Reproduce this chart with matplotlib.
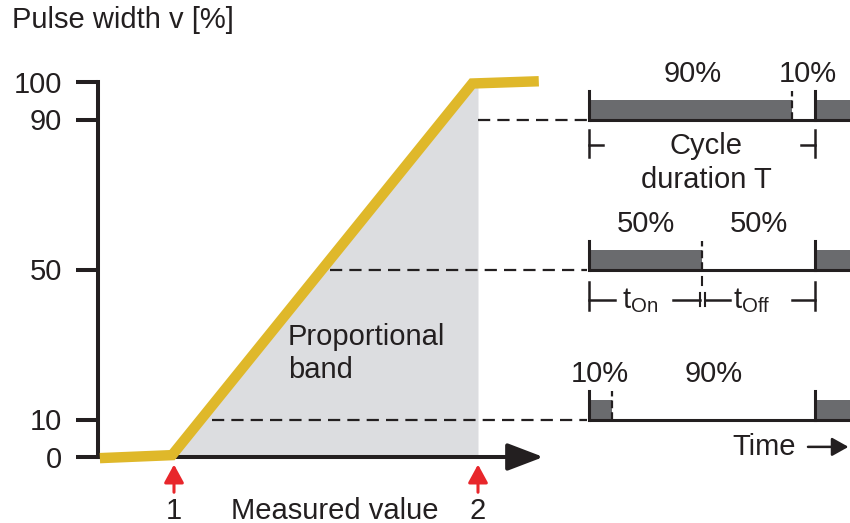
import numpy as np
import matplotlib.pyplot as plt

plt.rcParams['font.family'] = ['Liberation Sans', 'DejaVu Sans']
plt.rcParams['mathtext.fontset'] = 'custom'
plt.rcParams['mathtext.rm'] = 'Liberation Sans'
plt.rcParams['mathtext.it'] = 'Liberation Sans'

# controller curve: measured value -> pulse width [%]
curve_x = [0.05, 1.95, 9.85, 11.6]
curve_y = [-0.3, 0.5, 99.6, 100.2]
band_x = [1.95, 9.85, 10.0]     # grey proportional band (under the curve)
band_y = [0.5, 99.6, 99.6]
points = [2, 10]                # point 1 and point 2
point_labels = ['1', '2']
yticks = [0, 10, 50, 90, 100]

# pulse trains on the right (time in cycle durations T)
levels = [90, 50, 10]
duty = [0.9, 0.5, 0.1]
dash_from = [10.0, 6.1, 3.0]    # where the dashed guide leaves the curve
on_labels = ['90%', '50%', '10%']
off_labels = ['10%', '50%', '90%']

ink = '#231f20'
yellow = '#dfb82a'
fill_grey = '#dcdde0'
pulse_grey = '#6a6b6e'
red = '#e8262b'
fs = 21

fig = plt.figure(figsize=(8.5, 5.23), dpi=100)
ax = fig.add_axes([0, 0, 1, 1])
ax.set_xlim(-98 / 38, (850 - 98) / 38)
ax.set_ylim(-66 / 3.75, 457 / 3.75)
ax.patch.set_visible(False)

ax2 = fig.add_axes([0, 0, 1, 1], sharey=ax)
ax2.set_xlim(-589 / 226, 261 / 226)
ax2.axis('off')
ax2.patch.set_visible(False)

# y axis with ticks
for s in ['top', 'right', 'bottom']:
    ax.spines[s].set_visible(False)
ax.spines['left'].set_position(('data', 0))
ax.spines['left'].set_bounds(0, 100)
ax.spines['left'].set_linewidth(2.9)
ax.spines['left'].set_color(ink)
ax.set_xticks([])
ax.set_yticks(yticks)
ax.tick_params(axis='y', direction='out', length=16, width=2.9, pad=10,
               labelsize=fs, colors=ink)

# proportional band + curve
ax.fill_between(band_x, 0, band_y, color=fill_grey, lw=0, zorder=1)
ax.annotate('', xy=(11.72, 0), xytext=(0, 0), zorder=3,
            arrowprops=dict(arrowstyle='-|>,head_length=1.1,head_width=0.42',
                            mutation_scale=20, lw=2.9, color=ink,
                            shrinkA=0, shrinkB=0))
ax.plot(curve_x, curve_y, color=yellow, lw=7.5, solid_capstyle='butt',
        solid_joinstyle='miter', zorder=4)

for p, lab in zip(points, point_labels):
    ax.annotate('', xy=(p, -2.0), xytext=(p, -9.4),
                arrowprops=dict(arrowstyle='-|>,head_length=0.55,head_width=0.3',
                                mutation_scale=20, lw=2.2, color=red,
                                shrinkA=0, shrinkB=0))
    ax.text(p, -14.3, lab, fontsize=fs, color=ink, ha='center', va='center')

ax.text(6.24, -14.3, 'Measured value', fontsize=fs, color=ink,
        ha='center', va='center')
ax.text(-2.27, 116.5, 'Pulse width v [%]', fontsize=fs, color=ink,
        ha='left', va='center')
ax.text(5.0, 32.0, 'Proportional', fontsize=fs, color=ink, ha='left', va='center')
ax.text(5.0, 23.2, 'band', fontsize=fs, color=ink, ha='left', va='center')

# dashed guides from the curve to the pulse trains
end_x = ax.transData.inverted().transform(ax2.transData.transform((-0.01, 0)))[0]
for lev, x0 in zip(levels, dash_from):
    ax.plot([x0, end_x], [lev, lev], color=ink, lw=1.6, dashes=(5.5, 3.2))

# pulse trains
t_end = 261 / 226
bar_h = 5.3
tick_h = 7.5
for lev, d, on, off in zip(levels, duty, on_labels, off_labels):
    ax2.bar([0, 1], [bar_h, bar_h], width=[d, t_end - 1], bottom=lev,
            align='edge', color=pulse_grey, lw=0)
    ax2.plot([0, t_end], [lev, lev], color=ink, lw=2.2, solid_capstyle='butt')
    ax2.plot([0, 0], [lev, lev + tick_h], color=ink, lw=2.2)
    ax2.plot([1, 1], [lev, lev + tick_h], color=ink, lw=2.2)
    ax2.plot([d, d], [lev, lev + tick_h], color=ink, lw=1.6, dashes=(3.5, 1.8))
    on_t = d / 2 + (0.01 if d > 0.5 else 0)
    off_t = (1 + d) / 2 + (0.02 if d > 0.5 else 0)
    ax2.text(on_t, lev + 12, on, fontsize=fs, color=ink, ha='center', va='center')
    ax2.text(off_t, lev + 12, off, fontsize=fs, color=ink, ha='center', va='center')

# cycle duration bracket (90 % row)
lev = levels[0]
yb = lev - 6.9
for t, stub in [(0, 0.062), (1, -0.062)]:
    ax2.plot([t, t], [lev - 2.9, lev - 10.1], color=ink, lw=1.8)
    ax2.plot([t, t + stub], [yb, yb], color=ink, lw=1.8)
ax2.text(0.518, 82.9, 'Cycle', fontsize=fs, color=ink, ha='center', va='center')
ax2.text(0.518, 73.9, 'duration T', fontsize=fs, color=ink, ha='center', va='center')

# t_on / t_off brackets (50 % row)
lev = levels[1]
yb = lev - 8.0
ax2.plot([0.5, 0.5], [lev - 2.0, lev - 4.2], color=ink, lw=1.5)
for t in [0, 1]:
    ax2.plot([t, t], [lev - 3.2, lev - 10.7], color=ink, lw=1.8)
for t in [0.49, 0.515]:
    ax2.plot([t, t], [lev - 6.2, lev - 9.8], color=ink, lw=1.5)
for a, b in [(0, 0.115), (0.372, 0.49), (0.515, 0.624), (0.898, 1.0)]:
    ax2.plot([a, b], [yb, yb], color=ink, lw=1.8)
ax2.text(0.148, lev - 10.3, r't$_{\mathrm{On}}$', fontsize=fs, color=ink,
         ha='left', va='baseline')
ax2.text(0.635, lev - 10.3, r't$_{\mathrm{Off}}$', fontsize=fs, color=ink,
         ha='left', va='baseline')

# time arrow
ax2.text(0.633, 2.7, 'Time', fontsize=fs, color=ink, ha='left', va='center')
ax2.annotate('', xy=(1.148, 2.7), xytext=(0.969, 2.7),
             arrowprops=dict(arrowstyle='-|>,head_length=0.5,head_width=0.28',
                             mutation_scale=20, lw=1.8, color=ink,
                             shrinkA=0, shrinkB=0))

fig.savefig('out.png', dpi=100)
